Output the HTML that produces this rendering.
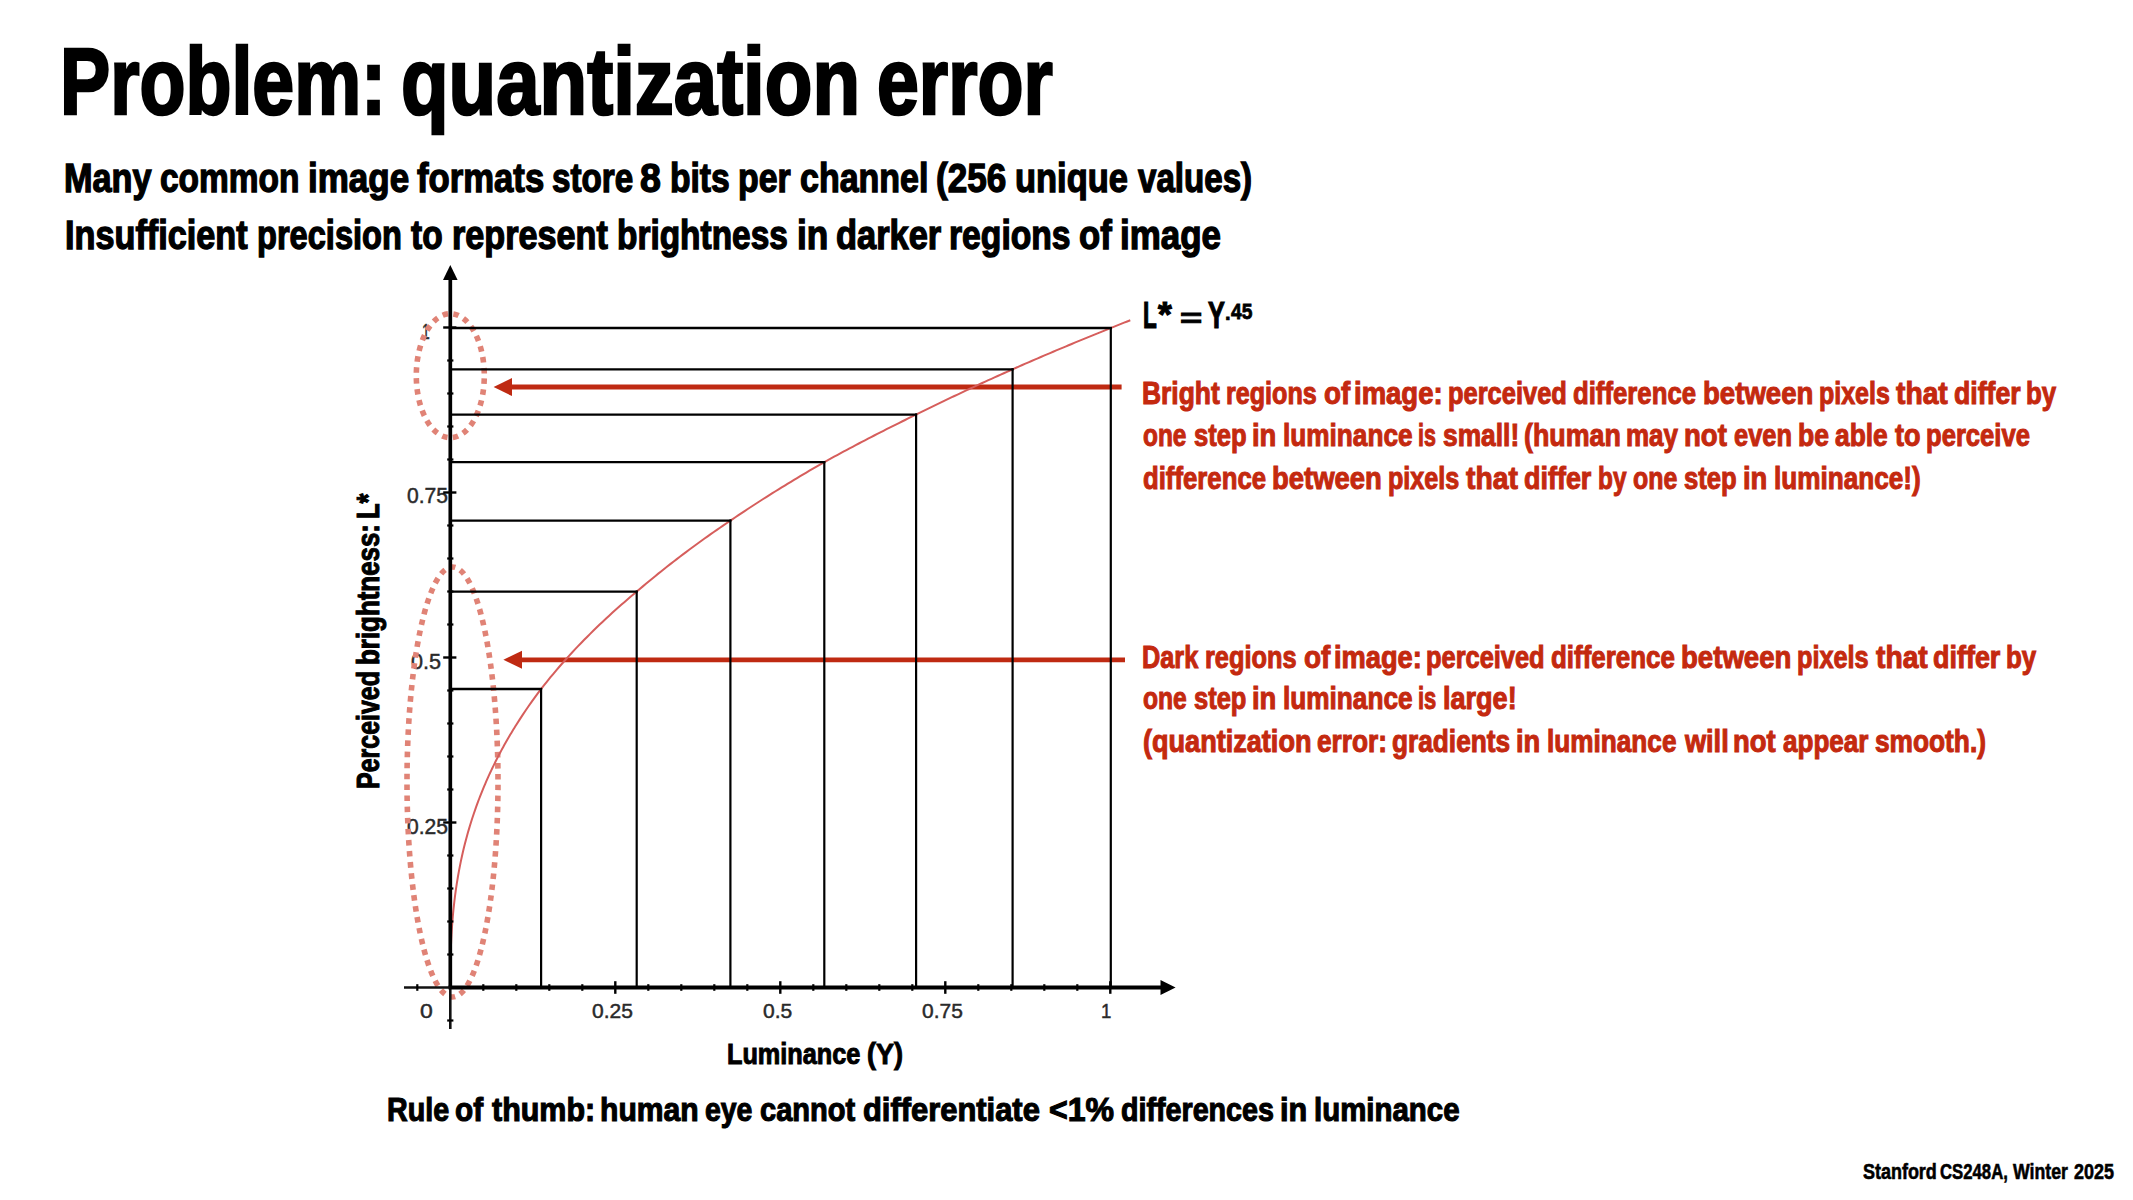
<!DOCTYPE html>
<html><head><meta charset="utf-8"><title>Problem: quantization error</title>
<style>
html,body{margin:0;padding:0;background:#fff;}
body{width:2133px;height:1200px;position:relative;overflow:hidden;font-family:"Liberation Sans",sans-serif;}
.c{position:absolute;left:0;top:0;}
.t{position:absolute;white-space:nowrap;line-height:1;transform-origin:0 0;}
</style></head><body>
<div class="t" style="left:422.35px;top:322.38px;font-size:21.4px;font-weight:normal;color:#2a2a2a;-webkit-text-stroke:0.45px #2a2a2a;transform:scaleX(0.6500)">1</div>
<div class="t" style="left:406.51px;top:486.27px;font-size:21.4px;font-weight:normal;color:#2a2a2a;-webkit-text-stroke:0.45px #2a2a2a;transform:scaleX(0.9850)">0.75</div>
<div class="t" style="left:410.69px;top:651.67px;font-size:21.4px;font-weight:normal;color:#2a2a2a;-webkit-text-stroke:0.45px #2a2a2a;transform:scaleX(1.0107)">0.5</div>
<div class="t" style="left:406.51px;top:817.12px;font-size:21.4px;font-weight:normal;color:#2a2a2a;-webkit-text-stroke:0.45px #2a2a2a;transform:scaleX(0.9850)">0.25</div>
<div class="t" style="left:420.22px;top:1002.38px;font-size:19.5px;font-weight:normal;color:#2a2a2a;-webkit-text-stroke:0.45px #2a2a2a;transform:scaleX(1.1778)">0</div>
<div class="t" style="left:592.42px;top:1002.38px;font-size:19.5px;font-weight:normal;color:#2a2a2a;-webkit-text-stroke:0.45px #2a2a2a;transform:scaleX(1.0778)">0.25</div>
<div class="t" style="left:762.62px;top:1002.38px;font-size:19.5px;font-weight:normal;color:#2a2a2a;-webkit-text-stroke:0.45px #2a2a2a;transform:scaleX(1.0788)">0.5</div>
<div class="t" style="left:922.22px;top:1002.38px;font-size:19.5px;font-weight:normal;color:#2a2a2a;-webkit-text-stroke:0.45px #2a2a2a;transform:scaleX(1.0750)">0.75</div>
<div class="t" style="left:1101.34px;top:1002.38px;font-size:19.5px;font-weight:normal;color:#2a2a2a;-webkit-text-stroke:0.45px #2a2a2a;transform:scaleX(0.9556)">1</div>
<svg class="c" width="2133" height="1200" viewBox="0 0 2133 1200"><ellipse cx="450.3" cy="375.7" rx="34" ry="62" fill="none" stroke="#E08376" stroke-width="5.6" stroke-dasharray="5.501 5.501" stroke-dashoffset="8.251"/><ellipse cx="452.5" cy="782" rx="45.5" ry="215" fill="none" stroke="#E08376" stroke-width="5.6" stroke-dasharray="5.533 5.533" stroke-dashoffset="8.300"/><line x1="510" y1="387.1" x2="1121.6" y2="387.1" stroke="#BF2A12" stroke-width="5"/><polygon points="493.6,387.1 512,378.1 512,396.1" fill="#BF2A12"/><line x1="520" y1="659.8" x2="1125" y2="659.8" stroke="#BF2A12" stroke-width="4.8"/><polygon points="503.4,659.8 522,650.8 522,668.8" fill="#BF2A12"/><polyline points="450.30,987.50 450.47,963.33 450.64,955.61 450.81,950.00 450.98,945.42 451.15,941.49 451.32,938.01 451.49,934.87 451.65,931.98 451.82,929.30 451.99,926.79 452.16,924.43 452.33,922.20 452.50,920.08 452.67,918.05 452.84,916.10 453.01,914.24 453.18,912.44 453.35,910.70 453.52,909.02 453.69,907.40 453.86,905.82 454.03,904.28 454.20,902.79 454.36,901.34 454.53,899.92 454.70,898.53 454.87,897.18 455.04,895.86 455.21,894.56 455.38,893.29 455.55,892.05 455.72,890.83 455.89,889.63 456.06,888.46 456.23,887.30 456.40,886.17 456.57,885.05 456.74,883.95 456.91,882.87 456.91,882.87 457.91,876.76 458.92,871.11 459.93,865.85 460.94,860.91 461.94,856.24 462.95,851.81 463.96,847.59 464.97,843.54 465.97,839.67 466.98,835.94 467.99,832.34 469.00,828.86 470.00,825.50 471.01,822.23 472.02,819.06 473.03,815.98 474.03,812.98 475.04,810.05 476.05,807.19 477.06,804.40 478.06,801.68 479.07,799.01 480.08,796.40 481.09,793.83 482.09,791.32 483.10,788.86 484.11,786.44 485.12,784.07 486.12,781.73 487.13,779.44 488.14,777.18 489.15,774.96 490.15,772.77 491.16,770.61 492.17,768.49 493.18,766.40 494.18,764.33 495.19,762.30 496.20,760.29 497.21,758.31 498.21,756.35 499.22,754.42 500.23,752.51 501.24,750.62 502.24,748.76 503.25,746.92 504.26,745.10 505.27,743.30 506.27,741.52 507.28,739.75 508.29,738.01 509.30,736.29 510.30,734.58 511.31,732.89 512.32,731.22 513.33,729.56 514.33,727.92 515.34,726.29 516.35,724.68 516.35,724.68 519.44,719.84 522.52,715.12 525.61,710.53 528.69,706.04 531.78,701.66 534.86,697.38 537.95,693.19 541.03,689.09 544.12,685.15 547.20,681.28 550.29,677.49 553.37,673.77 556.46,670.11 559.54,666.52 562.63,662.99 565.71,659.52 568.80,656.11 571.88,652.75 574.97,649.44 578.05,646.18 581.14,642.97 584.22,639.80 587.31,636.68 590.39,633.59 593.48,630.55 596.56,627.55 599.65,624.59 602.73,621.67 605.82,618.78 608.90,615.92 611.99,613.10 615.07,610.31 618.16,607.56 621.24,604.83 624.33,602.13 627.41,599.46 630.50,596.82 633.58,594.21 636.67,591.63 639.75,588.99 642.84,586.37 645.92,583.78 649.01,581.21 652.09,578.67 655.18,576.15 658.26,573.65 661.35,571.17 664.43,568.72 667.52,566.29 670.60,563.87 673.69,561.48 676.78,559.11 679.86,556.75 682.95,554.42 686.03,552.10 689.12,549.80 692.20,547.52 695.29,545.26 698.37,543.01 701.46,540.78 704.54,538.56 707.63,536.36 710.71,534.18 713.80,532.01 716.88,529.86 719.97,527.72 723.05,525.60 726.14,523.49 729.22,521.40 732.31,519.30 735.39,517.22 738.48,515.15 741.56,513.09 744.65,511.05 747.73,509.01 750.82,506.99 753.90,504.98 756.99,502.99 760.07,501.00 763.16,499.03 766.24,497.07 769.33,495.12 772.41,493.18 775.50,491.25 778.58,489.34 781.67,487.43 784.75,485.54 787.84,483.65 790.92,481.78 794.01,479.91 797.09,478.05 800.18,476.21 803.26,474.37 806.35,472.55 809.43,470.73 812.52,468.92 815.60,467.12 818.69,465.33 821.77,463.55 824.86,461.79 827.95,460.09 831.03,458.39 834.12,456.71 837.20,455.03 840.29,453.36 843.37,451.70 846.46,450.04 849.54,448.39 852.63,446.76 855.71,445.12 858.80,443.50 861.88,441.88 864.97,440.28 868.05,438.67 871.14,437.08 874.22,435.49 877.31,433.91 880.39,432.34 883.48,430.77 886.56,429.21 889.65,427.66 892.73,426.11 895.82,424.57 898.90,423.04 901.99,421.51 905.07,419.99 908.16,418.47 911.24,416.96 914.33,415.46 917.41,413.95 920.50,412.42 923.58,410.90 926.67,409.38 929.75,407.87 932.84,406.37 935.92,404.87 939.01,403.37 942.09,401.89 945.18,400.40 948.26,398.93 951.35,397.46 954.43,395.99 957.52,394.53 960.60,393.08 963.69,391.63 966.77,390.18 969.86,388.74 972.94,387.31 976.03,385.88 979.11,384.45 982.20,383.03 985.29,381.62 988.37,380.21 991.46,378.80 994.54,377.40 997.63,376.01 1000.71,374.62 1003.80,373.23 1006.88,371.85 1009.97,370.47 1013.05,369.10 1016.14,367.74 1019.22,366.39 1022.31,365.03 1025.39,363.69 1028.48,362.35 1031.56,361.01 1034.65,359.67 1037.73,358.34 1040.82,357.02 1043.90,355.70 1046.99,354.38 1050.07,353.07 1053.16,351.76 1056.24,350.45 1059.33,349.15 1062.41,347.85 1065.50,346.56 1068.58,345.27 1071.67,343.99 1074.75,342.70 1077.84,341.43 1080.92,340.15 1084.01,338.88 1087.09,337.61 1090.18,336.35 1093.26,335.09 1096.35,333.84 1099.43,332.58 1102.52,331.33 1105.60,330.09 1108.69,328.85 1111.77,327.61 1114.86,326.37 1117.94,325.14 1121.03,323.92 1124.11,322.69 1127.20,321.47 1130.28,320.25" fill="none" stroke="#D65E5C" stroke-width="2"/><line x1="450.3" y1="689" x2="542.1" y2="689" stroke="#000" stroke-width="2.3"/><line x1="541.1" y1="688" x2="541.1" y2="987.5" stroke="#000" stroke-width="2.2"/><line x1="450.3" y1="591.6" x2="637.7" y2="591.6" stroke="#000" stroke-width="2.3"/><line x1="636.7" y1="590.6" x2="636.7" y2="987.5" stroke="#000" stroke-width="2.2"/><line x1="450.3" y1="520.6" x2="731.4" y2="520.6" stroke="#000" stroke-width="2.3"/><line x1="730.4" y1="519.6" x2="730.4" y2="987.5" stroke="#000" stroke-width="2.2"/><line x1="450.3" y1="462.1" x2="825.3" y2="462.1" stroke="#000" stroke-width="2.3"/><line x1="824.3" y1="461.1" x2="824.3" y2="987.5" stroke="#000" stroke-width="2.2"/><line x1="450.3" y1="414.6" x2="917.1" y2="414.6" stroke="#000" stroke-width="2.3"/><line x1="916.1" y1="413.6" x2="916.1" y2="987.5" stroke="#000" stroke-width="2.2"/><line x1="450.3" y1="369.3" x2="1013.6" y2="369.3" stroke="#000" stroke-width="2.3"/><line x1="1012.6" y1="368.3" x2="1012.6" y2="987.5" stroke="#000" stroke-width="2.2"/><line x1="450.3" y1="328" x2="1111.8" y2="328" stroke="#000" stroke-width="2.3"/><line x1="1110.8" y1="327" x2="1110.8" y2="987.5" stroke="#000" stroke-width="2.2"/><line x1="450.3" y1="279" x2="450.3" y2="987.5" stroke="#000" stroke-width="3.7"/><line x1="450.3" y1="987.5" x2="450.3" y2="1029" stroke="#111" stroke-width="2.6"/><polygon points="450.3,265 443,280 457.6,280" fill="#000"/><line x1="448.5" y1="987.5" x2="1161" y2="987.5" stroke="#000" stroke-width="4.2"/><line x1="404" y1="987.5" x2="450.3" y2="987.5" stroke="#111" stroke-width="2.6"/><polygon points="1175.6,987.5 1160.5,980.1 1160.5,994.9" fill="#000"/><line x1="417.3" y1="984.2" x2="417.3" y2="990.8" stroke="#000" stroke-width="2.2"/><line x1="483.3" y1="984.2" x2="483.3" y2="990.8" stroke="#000" stroke-width="2.2"/><line x1="516.3" y1="984.2" x2="516.3" y2="990.8" stroke="#000" stroke-width="2.2"/><line x1="549.3" y1="984.2" x2="549.3" y2="990.8" stroke="#000" stroke-width="2.2"/><line x1="582.3" y1="984.2" x2="582.3" y2="990.8" stroke="#000" stroke-width="2.2"/><line x1="615.3" y1="981.2" x2="615.3" y2="993.8" stroke="#000" stroke-width="2.4"/><line x1="648.3" y1="984.2" x2="648.3" y2="990.8" stroke="#000" stroke-width="2.2"/><line x1="681.3" y1="984.2" x2="681.3" y2="990.8" stroke="#000" stroke-width="2.2"/><line x1="714.3" y1="984.2" x2="714.3" y2="990.8" stroke="#000" stroke-width="2.2"/><line x1="747.3" y1="984.2" x2="747.3" y2="990.8" stroke="#000" stroke-width="2.2"/><line x1="780.3" y1="981.2" x2="780.3" y2="993.8" stroke="#000" stroke-width="2.4"/><line x1="813.3" y1="984.2" x2="813.3" y2="990.8" stroke="#000" stroke-width="2.2"/><line x1="846.3" y1="984.2" x2="846.3" y2="990.8" stroke="#000" stroke-width="2.2"/><line x1="879.3" y1="984.2" x2="879.3" y2="990.8" stroke="#000" stroke-width="2.2"/><line x1="912.3" y1="984.2" x2="912.3" y2="990.8" stroke="#000" stroke-width="2.2"/><line x1="945.3" y1="981.2" x2="945.3" y2="993.8" stroke="#000" stroke-width="2.4"/><line x1="978.3" y1="984.2" x2="978.3" y2="990.8" stroke="#000" stroke-width="2.2"/><line x1="1011.3" y1="984.2" x2="1011.3" y2="990.8" stroke="#000" stroke-width="2.2"/><line x1="1044.3" y1="984.2" x2="1044.3" y2="990.8" stroke="#000" stroke-width="2.2"/><line x1="1077.3" y1="984.2" x2="1077.3" y2="990.8" stroke="#000" stroke-width="2.2"/><line x1="1110.3" y1="981.2" x2="1110.3" y2="993.8" stroke="#000" stroke-width="2.4"/><line x1="447.2" y1="1020.5" x2="453.4" y2="1020.5" stroke="#000" stroke-width="2.2"/><line x1="447.2" y1="954.5" x2="453.4" y2="954.5" stroke="#000" stroke-width="2.2"/><line x1="447.2" y1="921.5" x2="453.4" y2="921.5" stroke="#000" stroke-width="2.2"/><line x1="447.2" y1="888.5" x2="453.4" y2="888.5" stroke="#000" stroke-width="2.2"/><line x1="447.2" y1="855.5" x2="453.4" y2="855.5" stroke="#000" stroke-width="2.2"/><line x1="443.2" y1="822.5" x2="456.4" y2="822.5" stroke="#000" stroke-width="2.4"/><line x1="447.2" y1="789.5" x2="453.4" y2="789.5" stroke="#000" stroke-width="2.2"/><line x1="447.2" y1="756.5" x2="453.4" y2="756.5" stroke="#000" stroke-width="2.2"/><line x1="447.2" y1="723.5" x2="453.4" y2="723.5" stroke="#000" stroke-width="2.2"/><line x1="447.2" y1="690.5" x2="453.4" y2="690.5" stroke="#000" stroke-width="2.2"/><line x1="443.2" y1="657.5" x2="456.4" y2="657.5" stroke="#000" stroke-width="2.4"/><line x1="447.2" y1="624.5" x2="453.4" y2="624.5" stroke="#000" stroke-width="2.2"/><line x1="447.2" y1="591.5" x2="453.4" y2="591.5" stroke="#000" stroke-width="2.2"/><line x1="447.2" y1="558.5" x2="453.4" y2="558.5" stroke="#000" stroke-width="2.2"/><line x1="447.2" y1="525.5" x2="453.4" y2="525.5" stroke="#000" stroke-width="2.2"/><line x1="443.2" y1="492.5" x2="456.4" y2="492.5" stroke="#000" stroke-width="2.4"/><line x1="447.2" y1="459.5" x2="453.4" y2="459.5" stroke="#000" stroke-width="2.2"/><line x1="447.2" y1="426.5" x2="453.4" y2="426.5" stroke="#000" stroke-width="2.2"/><line x1="447.2" y1="393.5" x2="453.4" y2="393.5" stroke="#000" stroke-width="2.2"/><line x1="447.2" y1="360.5" x2="453.4" y2="360.5" stroke="#000" stroke-width="2.2"/><line x1="443.2" y1="327.5" x2="456.4" y2="327.5" stroke="#000" stroke-width="2.4"/></svg>
<div class="t" style="left:59.50px;top:34.80px;font-size:94px;font-weight:bold;color:#000;-webkit-text-stroke:2.6px #000;transform:scaleX(0.8005)">Problem:</div>
<div class="t" style="left:400.51px;top:34.80px;font-size:94px;font-weight:bold;color:#000;-webkit-text-stroke:2.6px #000;transform:scaleX(0.8293)">quantization</div>
<div class="t" style="left:876.70px;top:34.80px;font-size:94px;font-weight:bold;color:#000;-webkit-text-stroke:2.6px #000;transform:scaleX(0.8005)">error</div>
<div class="t" style="left:63.79px;top:158.32px;font-size:40px;font-weight:bold;color:#000;-webkit-text-stroke:1.36px #000;transform:scaleX(0.8564)">Many</div>
<div class="t" style="left:160.36px;top:158.32px;font-size:40px;font-weight:bold;color:#000;-webkit-text-stroke:1.36px #000;transform:scaleX(0.8360)">common</div>
<div class="t" style="left:307.75px;top:158.32px;font-size:40px;font-weight:bold;color:#000;-webkit-text-stroke:1.36px #000;transform:scaleX(0.8752)">image</div>
<div class="t" style="left:417.20px;top:158.32px;font-size:40px;font-weight:bold;color:#000;-webkit-text-stroke:1.36px #000;transform:scaleX(0.8671)">formats</div>
<div class="t" style="left:552.27px;top:158.32px;font-size:40px;font-weight:bold;color:#000;-webkit-text-stroke:1.36px #000;transform:scaleX(0.8302)">store</div>
<div class="t" style="left:640.36px;top:158.32px;font-size:40px;font-weight:bold;color:#000;-webkit-text-stroke:1.36px #000;transform:scaleX(0.9381)">8</div>
<div class="t" style="left:669.57px;top:158.32px;font-size:40px;font-weight:bold;color:#000;-webkit-text-stroke:1.36px #000;transform:scaleX(0.8404)">bits</div>
<div class="t" style="left:738.01px;top:158.32px;font-size:40px;font-weight:bold;color:#000;-webkit-text-stroke:1.36px #000;transform:scaleX(0.8459)">per</div>
<div class="t" style="left:799.75px;top:158.32px;font-size:40px;font-weight:bold;color:#000;-webkit-text-stroke:1.36px #000;transform:scaleX(0.8493)">channel</div>
<div class="t" style="left:935.72px;top:158.32px;font-size:40px;font-weight:bold;color:#000;-webkit-text-stroke:1.36px #000;transform:scaleX(0.8769)">(256</div>
<div class="t" style="left:1015.38px;top:158.32px;font-size:40px;font-weight:bold;color:#000;-webkit-text-stroke:1.36px #000;transform:scaleX(0.8617)">unique</div>
<div class="t" style="left:1137.80px;top:158.32px;font-size:40px;font-weight:bold;color:#000;-webkit-text-stroke:1.36px #000;transform:scaleX(0.8277)">values)</div>
<div class="t" style="left:64.54px;top:215.32px;font-size:40px;font-weight:bold;color:#000;-webkit-text-stroke:1.36px #000;transform:scaleX(0.8559)">Insufficient</div>
<div class="t" style="left:256.57px;top:215.32px;font-size:40px;font-weight:bold;color:#000;-webkit-text-stroke:1.36px #000;transform:scaleX(0.8149)">precision</div>
<div class="t" style="left:411.25px;top:215.32px;font-size:40px;font-weight:bold;color:#000;-webkit-text-stroke:1.36px #000;transform:scaleX(0.8365)">to</div>
<div class="t" style="left:451.69px;top:215.32px;font-size:40px;font-weight:bold;color:#000;-webkit-text-stroke:1.36px #000;transform:scaleX(0.8547)">represent</div>
<div class="t" style="left:617.08px;top:215.32px;font-size:40px;font-weight:bold;color:#000;-webkit-text-stroke:1.36px #000;transform:scaleX(0.8354)">brightness</div>
<div class="t" style="left:796.99px;top:215.32px;font-size:40px;font-weight:bold;color:#000;-webkit-text-stroke:1.36px #000;transform:scaleX(0.8797)">in</div>
<div class="t" style="left:836.34px;top:215.32px;font-size:40px;font-weight:bold;color:#000;-webkit-text-stroke:1.36px #000;transform:scaleX(0.8607)">darker</div>
<div class="t" style="left:948.92px;top:215.32px;font-size:40px;font-weight:bold;color:#000;-webkit-text-stroke:1.36px #000;transform:scaleX(0.8415)">regions</div>
<div class="t" style="left:1078.73px;top:215.32px;font-size:40px;font-weight:bold;color:#000;-webkit-text-stroke:1.36px #000;transform:scaleX(0.8658)">of</div>
<div class="t" style="left:1119.65px;top:215.32px;font-size:40px;font-weight:bold;color:#000;-webkit-text-stroke:1.36px #000;transform:scaleX(0.8735)">image</div>
<div class="t" style="left:1142.33px;top:378.16px;font-size:31.6px;font-weight:bold;color:#C4290F;-webkit-text-stroke:1.07px #C4290F;transform:scaleX(0.8363)">Bright</div>
<div class="t" style="left:1226.21px;top:378.16px;font-size:31.6px;font-weight:bold;color:#C4290F;-webkit-text-stroke:1.07px #C4290F;transform:scaleX(0.7946)">regions</div>
<div class="t" style="left:1323.62px;top:378.16px;font-size:31.6px;font-weight:bold;color:#C4290F;-webkit-text-stroke:1.07px #C4290F;transform:scaleX(0.8793)">of</div>
<div class="t" style="left:1354.46px;top:378.16px;font-size:31.6px;font-weight:bold;color:#C4290F;-webkit-text-stroke:1.07px #C4290F;transform:scaleX(0.8701)">image:</div>
<div class="t" style="left:1447.69px;top:378.16px;font-size:31.6px;font-weight:bold;color:#C4290F;-webkit-text-stroke:1.07px #C4290F;transform:scaleX(0.8056)">perceived</div>
<div class="t" style="left:1572.99px;top:378.16px;font-size:31.6px;font-weight:bold;color:#C4290F;-webkit-text-stroke:1.07px #C4290F;transform:scaleX(0.8147)">difference</div>
<div class="t" style="left:1702.85px;top:378.16px;font-size:31.6px;font-weight:bold;color:#C4290F;-webkit-text-stroke:1.07px #C4290F;transform:scaleX(0.8732)">between</div>
<div class="t" style="left:1818.92px;top:378.16px;font-size:31.6px;font-weight:bold;color:#C4290F;-webkit-text-stroke:1.07px #C4290F;transform:scaleX(0.7908)">pixels</div>
<div class="t" style="left:1896.30px;top:378.16px;font-size:31.6px;font-weight:bold;color:#C4290F;-webkit-text-stroke:1.07px #C4290F;transform:scaleX(0.8931)">that</div>
<div class="t" style="left:1954.16px;top:378.16px;font-size:31.6px;font-weight:bold;color:#C4290F;-webkit-text-stroke:1.07px #C4290F;transform:scaleX(0.8436)">differ</div>
<div class="t" style="left:2026.17px;top:378.16px;font-size:31.6px;font-weight:bold;color:#C4290F;-webkit-text-stroke:1.07px #C4290F;transform:scaleX(0.8171)">by</div>
<div class="t" style="left:1142.73px;top:420.36px;font-size:31.6px;font-weight:bold;color:#C4290F;-webkit-text-stroke:1.07px #C4290F;transform:scaleX(0.7727)">one</div>
<div class="t" style="left:1193.79px;top:420.36px;font-size:31.6px;font-weight:bold;color:#C4290F;-webkit-text-stroke:1.07px #C4290F;transform:scaleX(0.8095)">step</div>
<div class="t" style="left:1252.36px;top:420.36px;font-size:31.6px;font-weight:bold;color:#C4290F;-webkit-text-stroke:1.07px #C4290F;transform:scaleX(0.8680)">in</div>
<div class="t" style="left:1282.64px;top:420.36px;font-size:31.6px;font-weight:bold;color:#C4290F;-webkit-text-stroke:1.07px #C4290F;transform:scaleX(0.8292)">luminance</div>
<div class="t" style="left:1418.34px;top:420.36px;font-size:31.6px;font-weight:bold;color:#C4290F;-webkit-text-stroke:1.07px #C4290F;transform:scaleX(0.6792)">is</div>
<div class="t" style="left:1443.17px;top:420.36px;font-size:31.6px;font-weight:bold;color:#C4290F;-webkit-text-stroke:1.07px #C4290F;transform:scaleX(0.8341)">small!</div>
<div class="t" style="left:1524.25px;top:420.36px;font-size:31.6px;font-weight:bold;color:#C4290F;-webkit-text-stroke:1.07px #C4290F;transform:scaleX(0.8491)">(human</div>
<div class="t" style="left:1626.35px;top:420.36px;font-size:31.6px;font-weight:bold;color:#C4290F;-webkit-text-stroke:1.07px #C4290F;transform:scaleX(0.8226)">may</div>
<div class="t" style="left:1684.26px;top:420.36px;font-size:31.6px;font-weight:bold;color:#C4290F;-webkit-text-stroke:1.07px #C4290F;transform:scaleX(0.8723)">not</div>
<div class="t" style="left:1733.90px;top:420.36px;font-size:31.6px;font-weight:bold;color:#C4290F;-webkit-text-stroke:1.07px #C4290F;transform:scaleX(0.8043)">even</div>
<div class="t" style="left:1797.92px;top:420.36px;font-size:31.6px;font-weight:bold;color:#C4290F;-webkit-text-stroke:1.07px #C4290F;transform:scaleX(0.8412)">be</div>
<div class="t" style="left:1835.10px;top:420.36px;font-size:31.6px;font-weight:bold;color:#C4290F;-webkit-text-stroke:1.07px #C4290F;transform:scaleX(0.8349)">able</div>
<div class="t" style="left:1894.70px;top:420.36px;font-size:31.6px;font-weight:bold;color:#C4290F;-webkit-text-stroke:1.07px #C4290F;transform:scaleX(0.8552)">to</div>
<div class="t" style="left:1925.58px;top:420.36px;font-size:31.6px;font-weight:bold;color:#C4290F;-webkit-text-stroke:1.07px #C4290F;transform:scaleX(0.8103)">perceive</div>
<div class="t" style="left:1142.69px;top:462.66px;font-size:31.6px;font-weight:bold;color:#C4290F;-webkit-text-stroke:1.07px #C4290F;transform:scaleX(0.8147)">difference</div>
<div class="t" style="left:1272.46px;top:462.66px;font-size:31.6px;font-weight:bold;color:#C4290F;-webkit-text-stroke:1.07px #C4290F;transform:scaleX(0.8683)">between</div>
<div class="t" style="left:1387.91px;top:462.66px;font-size:31.6px;font-weight:bold;color:#C4290F;-webkit-text-stroke:1.07px #C4290F;transform:scaleX(0.7966)">pixels</div>
<div class="t" style="left:1465.50px;top:462.66px;font-size:31.6px;font-weight:bold;color:#C4290F;-webkit-text-stroke:1.07px #C4290F;transform:scaleX(0.8948)">that</div>
<div class="t" style="left:1524.25px;top:462.66px;font-size:31.6px;font-weight:bold;color:#C4290F;-webkit-text-stroke:1.07px #C4290F;transform:scaleX(0.8526)">differ</div>
<div class="t" style="left:1597.86px;top:462.66px;font-size:31.6px;font-weight:bold;color:#C4290F;-webkit-text-stroke:1.07px #C4290F;transform:scaleX(0.7714)">by</div>
<div class="t" style="left:1633.41px;top:462.66px;font-size:31.6px;font-weight:bold;color:#C4290F;-webkit-text-stroke:1.07px #C4290F;transform:scaleX(0.7873)">one</div>
<div class="t" style="left:1684.49px;top:462.66px;font-size:31.6px;font-weight:bold;color:#C4290F;-webkit-text-stroke:1.07px #C4290F;transform:scaleX(0.8111)">step</div>
<div class="t" style="left:1742.76px;top:462.66px;font-size:31.6px;font-weight:bold;color:#C4290F;-webkit-text-stroke:1.07px #C4290F;transform:scaleX(0.8680)">in</div>
<div class="t" style="left:1773.64px;top:462.66px;font-size:31.6px;font-weight:bold;color:#C4290F;-webkit-text-stroke:1.07px #C4290F;transform:scaleX(0.8276)">luminance!)</div>
<div class="t" style="left:1142.40px;top:641.67px;font-size:31.6px;font-weight:bold;color:#C4290F;-webkit-text-stroke:1.07px #C4290F;transform:scaleX(0.8000)">Dark</div>
<div class="t" style="left:1205.40px;top:641.67px;font-size:31.6px;font-weight:bold;color:#C4290F;-webkit-text-stroke:1.07px #C4290F;transform:scaleX(0.8018)">regions</div>
<div class="t" style="left:1303.52px;top:641.67px;font-size:31.6px;font-weight:bold;color:#C4290F;-webkit-text-stroke:1.07px #C4290F;transform:scaleX(0.8828)">of</div>
<div class="t" style="left:1334.38px;top:641.67px;font-size:31.6px;font-weight:bold;color:#C4290F;-webkit-text-stroke:1.07px #C4290F;transform:scaleX(0.8619)">image:</div>
<div class="t" style="left:1426.39px;top:641.67px;font-size:31.6px;font-weight:bold;color:#C4290F;-webkit-text-stroke:1.07px #C4290F;transform:scaleX(0.8042)">perceived</div>
<div class="t" style="left:1551.48px;top:641.67px;font-size:31.6px;font-weight:bold;color:#C4290F;-webkit-text-stroke:1.07px #C4290F;transform:scaleX(0.8200)">difference</div>
<div class="t" style="left:1681.25px;top:641.67px;font-size:31.6px;font-weight:bold;color:#C4290F;-webkit-text-stroke:1.07px #C4290F;transform:scaleX(0.8732)">between</div>
<div class="t" style="left:1797.30px;top:641.67px;font-size:31.6px;font-weight:bold;color:#C4290F;-webkit-text-stroke:1.07px #C4290F;transform:scaleX(0.8000)">pixels</div>
<div class="t" style="left:1875.50px;top:641.67px;font-size:31.6px;font-weight:bold;color:#C4290F;-webkit-text-stroke:1.07px #C4290F;transform:scaleX(0.8931)">that</div>
<div class="t" style="left:1933.45px;top:641.67px;font-size:31.6px;font-weight:bold;color:#C4290F;-webkit-text-stroke:1.07px #C4290F;transform:scaleX(0.8526)">differ</div>
<div class="t" style="left:2006.16px;top:641.67px;font-size:31.6px;font-weight:bold;color:#C4290F;-webkit-text-stroke:1.07px #C4290F;transform:scaleX(0.8200)">by</div>
<div class="t" style="left:1142.62px;top:683.37px;font-size:31.6px;font-weight:bold;color:#C4290F;-webkit-text-stroke:1.07px #C4290F;transform:scaleX(0.7800)">one</div>
<div class="t" style="left:1193.99px;top:683.37px;font-size:31.6px;font-weight:bold;color:#C4290F;-webkit-text-stroke:1.07px #C4290F;transform:scaleX(0.8063)">step</div>
<div class="t" style="left:1252.26px;top:683.37px;font-size:31.6px;font-weight:bold;color:#C4290F;-webkit-text-stroke:1.07px #C4290F;transform:scaleX(0.8680)">in</div>
<div class="t" style="left:1282.94px;top:683.37px;font-size:31.6px;font-weight:bold;color:#C4290F;-webkit-text-stroke:1.07px #C4290F;transform:scaleX(0.8292)">luminance</div>
<div class="t" style="left:1418.41px;top:683.37px;font-size:31.6px;font-weight:bold;color:#C4290F;-webkit-text-stroke:1.07px #C4290F;transform:scaleX(0.6958)">is</div>
<div class="t" style="left:1443.29px;top:683.37px;font-size:31.6px;font-weight:bold;color:#C4290F;-webkit-text-stroke:1.07px #C4290F;transform:scaleX(0.8561)">large!</div>
<div class="t" style="left:1142.64px;top:725.57px;font-size:31.6px;font-weight:bold;color:#C4290F;-webkit-text-stroke:1.07px #C4290F;transform:scaleX(0.8572)">(quantization</div>
<div class="t" style="left:1316.77px;top:725.57px;font-size:31.6px;font-weight:bold;color:#C4290F;-webkit-text-stroke:1.07px #C4290F;transform:scaleX(0.8309)">error:</div>
<div class="t" style="left:1391.77px;top:725.57px;font-size:31.6px;font-weight:bold;color:#C4290F;-webkit-text-stroke:1.07px #C4290F;transform:scaleX(0.8305)">gradients</div>
<div class="t" style="left:1516.47px;top:725.57px;font-size:31.6px;font-weight:bold;color:#C4290F;-webkit-text-stroke:1.07px #C4290F;transform:scaleX(0.8640)">in</div>
<div class="t" style="left:1546.74px;top:725.57px;font-size:31.6px;font-weight:bold;color:#C4290F;-webkit-text-stroke:1.07px #C4290F;transform:scaleX(0.8286)">luminance</div>
<div class="t" style="left:1684.56px;top:725.57px;font-size:31.6px;font-weight:bold;color:#C4290F;-webkit-text-stroke:1.07px #C4290F;transform:scaleX(0.8580)">will</div>
<div class="t" style="left:1733.26px;top:725.57px;font-size:31.6px;font-weight:bold;color:#C4290F;-webkit-text-stroke:1.07px #C4290F;transform:scaleX(0.8681)">not</div>
<div class="t" style="left:1782.80px;top:725.57px;font-size:31.6px;font-weight:bold;color:#C4290F;-webkit-text-stroke:1.07px #C4290F;transform:scaleX(0.8250)">appear</div>
<div class="t" style="left:1874.77px;top:725.57px;font-size:31.6px;font-weight:bold;color:#C4290F;-webkit-text-stroke:1.07px #C4290F;transform:scaleX(0.8321)">smooth.)</div>
<div class="t" style="left:726.83px;top:1039.51px;font-size:29px;font-weight:bold;color:#000;-webkit-text-stroke:0.99px #000;transform:scaleX(0.8711)">Luminance</div>
<div class="t" style="left:866.57px;top:1039.51px;font-size:29px;font-weight:bold;color:#000;-webkit-text-stroke:0.99px #000;transform:scaleX(0.9324)">(Y)</div>
<div class="t" style="left:386.92px;top:1092.42px;font-size:34px;font-weight:bold;color:#000;-webkit-text-stroke:1.16px #000;transform:scaleX(0.8423)">Rule</div>
<div class="t" style="left:455.12px;top:1092.42px;font-size:34px;font-weight:bold;color:#000;-webkit-text-stroke:1.16px #000;transform:scaleX(0.8750)">of</div>
<div class="t" style="left:491.60px;top:1092.42px;font-size:34px;font-weight:bold;color:#000;-webkit-text-stroke:1.16px #000;transform:scaleX(0.8955)">thumb:</div>
<div class="t" style="left:599.53px;top:1092.42px;font-size:34px;font-weight:bold;color:#000;-webkit-text-stroke:1.16px #000;transform:scaleX(0.8852)">human</div>
<div class="t" style="left:705.47px;top:1092.42px;font-size:34px;font-weight:bold;color:#000;-webkit-text-stroke:1.16px #000;transform:scaleX(0.8345)">eye</div>
<div class="t" style="left:759.95px;top:1092.42px;font-size:34px;font-weight:bold;color:#000;-webkit-text-stroke:1.16px #000;transform:scaleX(0.8541)">cannot</div>
<div class="t" style="left:863.09px;top:1092.42px;font-size:34px;font-weight:bold;color:#000;-webkit-text-stroke:1.16px #000;transform:scaleX(0.9088)">differentiate</div>
<div class="t" style="left:1048.76px;top:1092.42px;font-size:34px;font-weight:bold;color:#000;-webkit-text-stroke:1.16px #000;transform:scaleX(0.9426)">&lt;1%</div>
<div class="t" style="left:1120.96px;top:1092.42px;font-size:34px;font-weight:bold;color:#000;-webkit-text-stroke:1.16px #000;transform:scaleX(0.8428)">differences</div>
<div class="t" style="left:1280.30px;top:1092.42px;font-size:34px;font-weight:bold;color:#000;-webkit-text-stroke:1.16px #000;transform:scaleX(0.9000)">in</div>
<div class="t" style="left:1314.27px;top:1092.42px;font-size:34px;font-weight:bold;color:#000;-webkit-text-stroke:1.16px #000;transform:scaleX(0.8657)">luminance</div>
<div class="t" style="left:1863.30px;top:1160.90px;font-size:21.2px;font-weight:bold;color:#000;-webkit-text-stroke:0.6px #000;transform:scaleX(0.8477)">Stanford</div>
<div class="t" style="left:1940.11px;top:1160.90px;font-size:21.2px;font-weight:bold;color:#000;-webkit-text-stroke:0.6px #000;transform:scaleX(0.7893)">CS248A,</div>
<div class="t" style="left:2012.50px;top:1160.90px;font-size:21.2px;font-weight:bold;color:#000;-webkit-text-stroke:0.6px #000;transform:scaleX(0.8348)">Winter</div>
<div class="t" style="left:2074.20px;top:1160.90px;font-size:21.2px;font-weight:bold;color:#000;-webkit-text-stroke:0.6px #000;transform:scaleX(0.8468)">2025</div>
<div class="t" style="left:353.18px;top:789.34px;font-size:30.5px;font-weight:bold;color:#000;-webkit-text-stroke:1.04px #000;transform:rotate(-90deg) scaleX(0.8184)">Perceived</div>
<div class="t" style="left:353.18px;top:665.40px;font-size:30.5px;font-weight:bold;color:#000;-webkit-text-stroke:1.04px #000;transform:rotate(-90deg) scaleX(0.8488)">brightness:</div>
<div class="t" style="left:353.18px;top:518.77px;font-size:30.5px;font-weight:bold;color:#000;-webkit-text-stroke:1.04px #000;transform:rotate(-90deg) scaleX(0.8345)">L*</div>
<div class="t" style="left:1143.15px;top:298.09px;font-size:36px;font-weight:bold;color:#000;-webkit-text-stroke:1.22px #000;transform:scaleX(0.6250)">L</div>
<div class="t" style="left:1157.90px;top:297.33px;font-size:30px;font-weight:bold;color:#000;-webkit-text-stroke:1.02px #000;transform:scale(1.1750,1.1667)">*</div>
<div class="t" style="left:1179.63px;top:306.35px;font-size:30px;font-weight:bold;color:#000;-webkit-text-stroke:1.02px #000;transform:scale(1.2687,0.8308)">=</div>
<div class="t" style="left:1208.00px;top:298.09px;font-size:36px;font-weight:bold;color:#000;-webkit-text-stroke:1.22px #000;transform:scaleX(0.7000)">Y</div>
<div class="t" style="left:1225.16px;top:302.56px;font-size:24px;font-weight:bold;color:#000;-webkit-text-stroke:0.82px #000;transform:scale(0.8400,0.8400)">.</div>
<div class="t" style="left:1231.40px;top:301.00px;font-size:24.7px;font-weight:bold;color:#000;-webkit-text-stroke:0.84px #000;transform:scale(0.7778,0.9000)">45</div>
</body></html>
